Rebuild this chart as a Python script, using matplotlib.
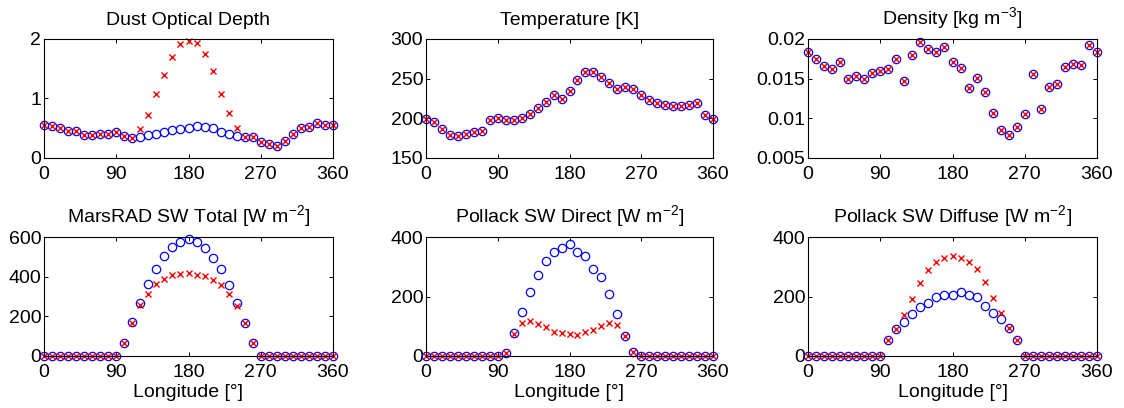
import numpy as np
import matplotlib
matplotlib.use("Agg")
import matplotlib.pyplot as plt

plt.rcParams['font.family'] = ['Liberation Sans', 'DejaVu Sans']
plt.rcParams['mathtext.fontset'] = 'custom'
plt.rcParams['mathtext.rm'] = 'Liberation Sans'

lon = np.arange(0, 361, 10)
z10 = [0] * 10
z10b = [0] * 10

# dust optical depth
dust_blue = [0.556, 0.54, 0.50, 0.46, 0.455, 0.39, 0.39, 0.405, 0.395, 0.43,
             0.37, 0.33, 0.355, 0.39, 0.405, 0.43, 0.47, 0.49, 0.50, 0.54,
             0.52, 0.505, 0.43, 0.395, 0.37, 0.36, 0.35, 0.27, 0.23, 0.205,
             0.29, 0.40, 0.50, 0.52, 0.58, 0.56, 0.556]
dust_red = dust_blue[:12] + [0.48, 0.73, 1.07, 1.39, 1.69, 1.91, 1.97, 1.94,
                             1.74, 1.47, 1.08, 0.76, 0.51] + dust_blue[25:]

# temperature (same for both)
temp = [198.8, 195.4, 186.7, 179.6, 178.3, 180, 183, 184, 198, 200,
        198, 197.5, 200, 206, 213, 221, 229, 224, 234.6, 248,
        259, 259, 252, 244, 236.7, 239, 237.5, 229, 223, 218.8,
        217, 215.4, 215.4, 216.7, 218.8, 203.8, 198.8]

# density (same for both)
dens = [0.01842, 0.01754, 0.01658, 0.01621, 0.01704, 0.01496, 0.01533, 0.0150,
        0.01571, 0.01592, 0.01617, 0.01742, 0.01475, 0.0180, 0.01967, 0.01871,
        0.01833, 0.01904, 0.01704, 0.01633, 0.01388, 0.01504, 0.01329, 0.01071,
        0.00854, 0.00788, 0.00888, 0.01058, 0.01558, 0.01117, 0.01392, 0.01433,
        0.0165, 0.01688, 0.01667, 0.01925, 0.01842]

# MarsRAD SW total
tot_blue = z10 + [67, 170, 269, 365, 439, 504, 548, 576, 588, 575, 546, 494,
                  437, 358, 269, 168, 67] + z10b
tot_red = z10 + [67, 168, 257, 314, 365, 390, 408, 412, 417, 410, 402, 383,
                 360, 314, 252, 168, 67] + z10b

# Pollack SW direct
dir_blue = z10 + [11, 77, 149, 214, 272, 321, 349, 363, 378, 349, 336, 291,
                  264, 207, 141, 68, 14] + z10b
dir_red = z10 + [11, 74, 110, 116, 106, 96, 82, 76, 73, 72, 79, 87,
                 102, 112, 105, 68, 14] + z10b

# Pollack SW diffuse
dif_blue = z10 + [53, 91, 115, 140, 164, 179, 197, 206, 206, 215, 206, 199,
                  168, 144, 124, 94, 53] + z10b
dif_red = z10 + [53, 91, 138, 192, 245, 288, 316, 331, 337, 330, 315, 291,
                 248, 196, 143, 94, 53] + z10b

panels = [
    ("Dust Optical Depth", dust_blue, dust_red, (0, 2), [0, 1, 2], None),
    ("Temperature [K]", temp, temp, (150, 300), [150, 200, 250, 300], None),
    ("Density [kg m$^{-3}$]", dens, dens, (0.005, 0.02),
     [0.005, 0.01, 0.015, 0.02], ["0.005", "0.01", "0.015", "0.02"]),
    ("MarsRAD SW Total [W m$^{-2}$]", tot_blue, tot_red, (0, 600), [0, 200, 400, 600], None),
    ("Pollack SW Direct [W m$^{-2}$]", dir_blue, dir_red, (0, 400), [0, 200, 400], None),
    ("Pollack SW Diffuse [W m$^{-2}$]", dif_blue, dif_red, (0, 400), [0, 200, 400], None),
]

W, H = 1124, 408
fig = plt.figure(figsize=(W / 100, H / 100), dpi=100)
lefts = [44, 426, 808]
widths = [289, 287, 289]
tops = [39, 237]
hgt = 119

for i, (title, yb, yr, ylim, yt, ytl) in enumerate(panels):
    r, c = divmod(i, 3)
    ax = fig.add_axes([lefts[c] / W, 1 - (tops[r] + hgt) / H, widths[c] / W, hgt / H])
    ax.plot(lon, yb, 'o', mfc='none', mec='blue', ms=6, mew=0.9, clip_on=False)
    ax.plot(lon, yr, 'x', color='red', ms=4.5, mew=1.0, clip_on=False)
    ax.set_xlim(0, 360)
    ax.set_ylim(*ylim)
    ax.set_xticks([0, 90, 180, 270, 360])
    ax.set_yticks(yt)
    if ytl:
        ax.set_yticklabels(ytl)
    ax.tick_params(direction='in', length=3, width=0.7, top=True, right=True,
                   labelsize=14)
    ax.tick_params(axis='x', pad=6)
    ax.tick_params(axis='y', pad=2)
    for s in ax.spines.values():
        s.set_linewidth(0.8)
    ax.set_title(title, fontsize=14, pad=10)
    if r == 1:
        ax.set_xlabel("Longitude [°]", fontsize=14, labelpad=2)

fig.savefig("out.png", dpi=100)
